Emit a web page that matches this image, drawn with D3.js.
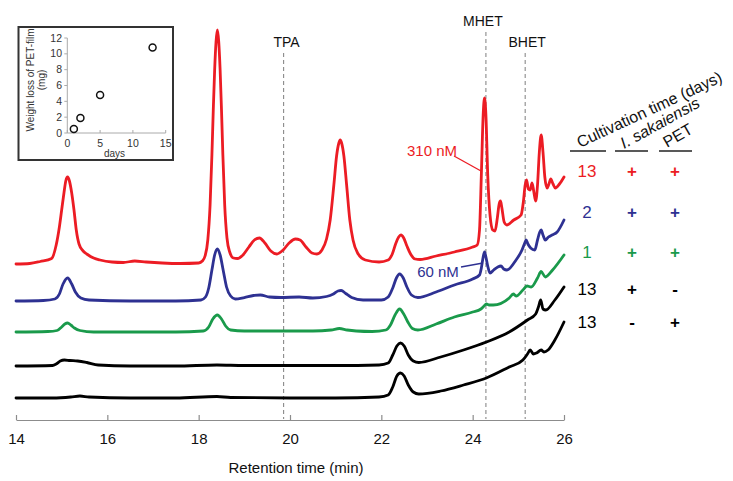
<!DOCTYPE html>
<html><head><meta charset="utf-8">
<script src="https://cdn.jsdelivr.net/npm/d3@7"></script>
<style>
html,body{margin:0;padding:0;background:#fff;}
svg text{font-family:"Liberation Sans",Arial,sans-serif;}
</style></head>
<body><svg id="c" width="733" height="481"></svg>
<script>
// ---------------- DATA ----------------
const xTicks = [14, 16, 18, 20, 22, 24, 26];
const markers = [
  {name: "TPA", t: 19.86},
  {name: "MHET", t: 24.29},
  {name: "BHET", t: 25.15}
];
// [retention time (min), signal (a.u., stacked offset)]
const redTrace = [[14.00,156],[14.30,156.5],[14.53,158.5],[14.78,161.5],[14.88,175],[14.95,193],[15.00,210],[15.05,227],[15.09,239],[15.13,243],[15.17,239],[15.22,227],[15.27,210],[15.32,190],[15.38,176],[15.47,169],[15.55,166],[15.70,162],[15.84,160],[16.10,158],[16.35,157.5],[16.60,159],[16.85,158],[17.20,157],[17.60,156.5],[18.00,157],[18.08,159],[18.14,164],[18.20,180],[18.25,215],[18.29,265],[18.32,310],[18.35,350],[18.38,378],[18.41,390],[18.44,378],[18.47,350],[18.50,310],[18.53,265],[18.57,215],[18.62,182],[18.68,168],[18.76,162],[18.85,161.5],[18.97,165],[19.10,173],[19.22,180],[19.33,182],[19.45,177],[19.58,169],[19.71,166],[19.85,170],[19.98,177],[20.12,181],[20.22,180],[20.35,173],[20.48,167],[20.59,166],[20.70,170],[20.80,181],[20.88,200],[20.96,235],[21.02,264],[21.07,277],[21.10,280],[21.13,277],[21.18,264],[21.24,235],[21.31,200],[21.38,180],[21.48,167],[21.65,160],[21.95,158],[22.15,160],[22.24,166],[22.32,177],[22.38,183],[22.43,185],[22.49,182],[22.56,174],[22.64,166],[22.74,161],[22.85,160.5],[23.20,164],[23.60,168],[24.00,173],[24.10,175],[24.15,190],[24.19,245],[24.23,305],[24.26,322],[24.29,305],[24.33,245],[24.38,205],[24.44,190],[24.49,189],[24.54,202],[24.58,216],[24.61,219],[24.64,212],[24.69,198],[24.75,195],[24.90,200],[25.06,205],[25.11,218],[25.15,235],[25.18,240],[25.22,231],[25.26,230],[25.30,237],[25.34,228],[25.38,219],[25.42,235],[25.46,268],[25.50,285],[25.54,268],[25.58,243],[25.63,232],[25.67,236],[25.71,241],[25.76,236],[25.81,232],[25.90,236],[26.00,243]];
const blueTrace = [[14.00,119],[14.60,119.5],[14.85,121],[14.95,126],[15.03,136],[15.13,142],[15.22,136],[15.30,128],[15.42,122],[15.60,120],[16.50,119],[17.50,119],[18.05,120],[18.15,123],[18.22,132],[18.29,150],[18.35,165],[18.41,171],[18.47,165],[18.54,149],[18.61,133],[18.70,124],[18.80,121],[19.00,122.5],[19.20,124.5],[19.35,125],[19.55,123],[19.80,122.5],[20.20,123],[20.50,122],[20.80,123.5],[20.95,126],[21.05,129],[21.12,129.5],[21.22,126.5],[21.35,122.5],[21.60,120],[22.00,120],[22.15,123],[22.25,132],[22.33,142],[22.40,146],[22.48,142],[22.56,133],[22.66,125],[22.80,122.5],[23.20,128],[23.60,135],[24.00,141],[24.15,145],[24.19,152],[24.23,163],[24.26,168],[24.29,163],[24.33,154],[24.38,147],[24.46,150],[24.55,153],[24.62,154],[24.68,151],[24.75,150],[24.95,160],[25.08,170],[25.14,177],[25.17,180],[25.21,176],[25.27,172],[25.36,170],[25.42,180],[25.47,188],[25.50,190],[25.54,185],[25.59,180],[25.66,183],[25.74,185],[25.85,188],[26.00,200]];
const greenTrace = [[14.00,88],[14.70,88.5],[14.90,89.5],[15.00,93],[15.07,96],[15.13,97],[15.20,95],[15.28,92],[15.40,89.5],[15.70,88],[17.50,88],[18.10,89],[18.22,93],[18.31,101],[18.41,105],[18.50,101],[18.59,94],[18.70,90],[19.00,89],[19.60,89],[20.50,89],[20.90,90],[21.08,91.5],[21.25,90],[21.45,89],[21.80,88.5],[22.10,90],[22.20,95],[22.30,105],[22.40,111],[22.49,106],[22.58,98],[22.68,91.5],[22.80,90],[23.20,96],[23.60,103],[24.00,108],[24.18,111],[24.25,114],[24.30,116],[24.36,115],[24.45,115],[24.80,122],[24.89,126],[24.95,124],[25.10,130],[25.19,134],[25.28,133],[25.42,142],[25.50,148.5],[25.59,143],[25.75,150],[26.00,165]];
const blackTrace1 = [[14.00,54],[14.80,54.5],[14.88,56],[14.97,59],[15.06,60],[15.18,59.5],[15.35,59],[15.55,57.5],[15.80,55],[16.50,54],[17.50,54],[18.40,55],[19.00,54.5],[20.00,54.5],[21.00,54.5],[21.95,55],[22.15,57],[22.25,65],[22.34,74],[22.42,77],[22.50,74],[22.59,65],[22.70,59],[22.82,57.5],[23.30,63],[23.80,70],[24.30,78],[24.80,88],[25.20,100],[25.38,106],[25.44,113],[25.49,120],[25.54,111],[25.60,110],[25.80,120],[26.00,133]];
const blackTrace2 = [[14.00,22],[14.80,22],[15.20,23],[15.40,24],[15.60,23],[16.50,22],[17.50,22],[18.40,23.5],[18.70,22.5],[20.00,22],[21.00,22],[21.95,23],[22.15,25],[22.25,33],[22.34,44],[22.42,47],[22.50,44],[22.59,35],[22.70,28],[22.82,26],[23.30,29],[23.80,35],[24.30,42],[24.80,53],[25.10,60],[25.20,66],[25.26,70],[25.33,66],[25.40,67],[25.50,70],[25.56,68],[25.65,70],[25.80,80],[26.00,98]];
const traceColors = ["#ec1c24", "#2e3192", "#1a9a4b", "#000000", "#000000"];
// table
const cultivationDays = ["13", "2", "1", "13", "13"];
const sakaiensis = ["+", "+", "+", "+", "-"];
const petFilm = ["+", "+", "+", "-", "+"];
// inset
const insetDays = [1, 2, 5, 13];
const insetWeightLoss = [0.5, 1.9, 4.8, 10.8];
const insetXTicks = [0, 5, 10, 15];
const insetYTicks = [0, 2, 4, 6, 8, 10, 12];

// ---------------- DRAW ----------------
const svg = d3.select("#c");
const x = d3.scaleLinear().domain([14, 26]).range([16, 564]);
const y = d3.scaleLinear().domain([0, 400]).range([420, 20]);

// marker dashed lines + labels
const markerTop = {TPA: 53, MHET: 32, BHET: 53};
const markerLabelY = {TPA: 47, MHET: 26, BHET: 47};
const markerDx = {TPA: 3, MHET: -3, BHET: 2};
markers.forEach(m => {
  svg.append("line").attr("x1", x(m.t)).attr("x2", x(m.t))
    .attr("y1", markerTop[m.name]).attr("y2", 419)
    .attr("stroke", "#8a8a8a").attr("stroke-width", 1.1).attr("stroke-dasharray", "4,3");
  svg.append("text").attr("x", x(m.t) + markerDx[m.name]).attr("y", markerLabelY[m.name])
    .attr("text-anchor", "middle").attr("font-size", 14).attr("fill", "#111").text(m.name);
});

// axis
const axis = d3.axisBottom(x).tickValues(xTicks).tickSize(0).tickPadding(0);
const gAxis = svg.append("g").attr("transform", "translate(0,420)").call(axis);
gAxis.select(".domain").attr("stroke", "#8c8c8c").attr("stroke-width", 1.2);
gAxis.selectAll(".tick").append("line").attr("y1", 0).attr("y2", -5).attr("stroke", "#8c8c8c").attr("stroke-width", 1.2);
gAxis.selectAll(".tick text").attr("dy", null).attr("y", 24).attr("font-size", 15).attr("fill", "#111")
  .attr("font-family", "Liberation Sans, Arial, sans-serif");
svg.append("text").attr("x", 296).attr("y", 473).attr("text-anchor", "middle")
  .attr("font-size", 15).attr("fill", "#111").text("Retention time (min)");

// traces
const line = d3.line().x(d => x(d[0])).y(d => y(d[1])).curve(d3.curveMonotoneX);
[redTrace, blueTrace, greenTrace, blackTrace1, blackTrace2].forEach((tr, i) => {
  svg.append("path").datum(tr).attr("d", line).attr("fill", "none")
    .attr("stroke", traceColors[i]).attr("stroke-width", 2.8)
    .attr("stroke-linejoin", "round").attr("stroke-linecap", "round");
});

// concentration annotations
svg.append("line").attr("x1", 454).attr("y1", 156).attr("x2", 481).attr("y2", 171)
  .attr("stroke", traceColors[0]).attr("stroke-width", 1.3);
svg.append("text").attr("x", 432).attr("y", 156).attr("text-anchor", "middle")
  .attr("font-size", 15).attr("fill", traceColors[0]).text("310 nM");
svg.append("line").attr("x1", 461).attr("y1", 267).attr("x2", 483).attr("y2", 263)
  .attr("stroke", traceColors[1]).attr("stroke-width", 1.3);
svg.append("text").attr("x", 438).attr("y", 277).attr("text-anchor", "middle")
  .attr("font-size", 15).attr("fill", traceColors[1]).text("60 nM");

// table headers
svg.append("text").attr("transform", "translate(580,148) rotate(-25)")
  .attr("font-size", 16).attr("fill", "#111").text("Cultivation time (days)");
svg.append("text").attr("transform", "translate(624,149) rotate(-29)")
  .attr("font-size", 16).attr("font-style", "italic").attr("fill", "#111").text("I. sakaiensis");
svg.append("text").attr("transform", "translate(667,148) rotate(-30)")
  .attr("font-size", 16).attr("fill", "#111").text("PET");
[[570, 606], [615, 648], [659, 692]].forEach(s => {
  svg.append("line").attr("x1", s[0]).attr("x2", s[1]).attr("y1", 151).attr("y2", 151)
    .attr("stroke", "#222").attr("stroke-width", 1.5);
});
const rowY = [177, 218, 258, 295, 328];
cultivationDays.forEach((d, i) => {
  svg.append("text").attr("x", 587).attr("y", rowY[i]).attr("text-anchor", "middle")
    .attr("font-size", 17).attr("fill", traceColors[i]).text(d);
  svg.append("text").attr("x", 632).attr("y", rowY[i]).attr("text-anchor", "middle")
    .attr("font-size", 17).attr("font-weight", "bold").attr("fill", traceColors[i]).text(sakaiensis[i]);
  svg.append("text").attr("x", 675).attr("y", rowY[i]).attr("text-anchor", "middle")
    .attr("font-size", 17).attr("font-weight", "bold").attr("fill", traceColors[i]).text(petFilm[i]);
});

// inset
const inset = svg.append("g");
inset.append("rect").attr("x", 18.5).attr("y", 27).attr("width", 154.5).attr("height", 133)
  .attr("fill", "#fff").attr("stroke", "#333").attr("stroke-width", 2);
const ix = d3.scaleLinear().domain([0, 15]).range([67.3, 165.7]);
const iy = d3.scaleLinear().domain([0, 12]).range([133, 38]);
inset.append("line").attr("x1", ix(0)).attr("x2", ix(15)).attr("y1", iy(0)).attr("y2", iy(0))
  .attr("stroke", "#aaa").attr("stroke-width", 1);
inset.append("line").attr("x1", ix(0)).attr("x2", ix(0)).attr("y1", iy(0)).attr("y2", iy(12))
  .attr("stroke", "#aaa").attr("stroke-width", 1);
insetXTicks.forEach(t => {
  inset.append("line").attr("x1", ix(t)).attr("x2", ix(t)).attr("y1", iy(0)).attr("y2", iy(0) - 3)
    .attr("stroke", "#aaa");
  inset.append("text").attr("x", ix(t)).attr("y", 147).attr("text-anchor", "middle")
    .attr("font-size", 10.5).attr("fill", "#333").text(t);
});
insetYTicks.forEach(t => {
  inset.append("line").attr("x1", ix(0) - 3).attr("x2", ix(0)).attr("y1", iy(t)).attr("y2", iy(t))
    .attr("stroke", "#aaa");
  inset.append("text").attr("x", 62).attr("y", iy(t) + 3.5).attr("text-anchor", "end")
    .attr("font-size", 10.5).attr("fill", "#333").text(t);
});
inset.append("text").attr("x", ix(7.5) - 2).attr("y", 157).attr("text-anchor", "middle")
  .attr("font-size", 10).attr("fill", "#333").text("days");
inset.append("text").attr("transform", "translate(33.5,80) rotate(-90)").attr("text-anchor", "middle")
  .attr("font-size", 10).attr("fill", "#333").text("Weight loss of PET-film");
inset.append("text").attr("transform", "translate(45,80) rotate(-90)").attr("text-anchor", "middle")
  .attr("font-size", 10).attr("fill", "#333").text("(mg)");
inset.selectAll("circle.pt").data(insetDays).enter().append("circle")
  .attr("cx", (d) => ix(d)).attr("cy", (d, i) => iy(insetWeightLoss[i])).attr("r", 3.5)
  .attr("fill", "#fff").attr("stroke", "#111").attr("stroke-width", 1.5);
</script></body></html>
